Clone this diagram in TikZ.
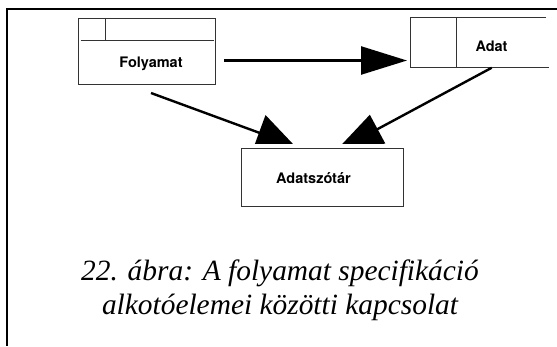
\documentclass[tikz,border=0pt]{standalone}
\usepackage{fontspec}
\setmainfont{Liberation Serif}
\newfontfamily\labelfont{TeX Gyre Heros}
\usetikzlibrary{arrows.meta}

\tikzset{
  box/.style={draw=black!80, line width=0.9pt, rectangle, inner sep=0pt},
  boxline/.style={draw=black!80, line width=0.9pt},
  lbl/.style={font=\labelfont\bfseries\fontsize{14.5}{17}\selectfont, anchor=base, inner sep=0pt},
  capt/.style={font=\itshape\fontsize{29.4}{34}\selectfont, anchor=base, inner sep=0pt},
  conn/.style={draw=black, line width=2.4pt},
  frame/.style={draw=black, line width=2.6pt}
}

\begin{document}
\begin{tikzpicture}[x=1pt, y=-1pt]
  \useasboundingbox (0,0) rectangle (557,346);

  % page frame: top and left rules only
  \draw[frame] (557,9) -- (7,9) -- (7,346);

  % process box with header strip
  \node[box, minimum width=137.3pt, minimum height=66pt] (proc) at (146.65,51) {};
  \draw[boxline] (80.7,40.7) -- (213.7,40.7);
  \draw[boxline] (105.3,18) -- (105.3,40.7);
  \node[lbl] (proclbl) at (151,67.2) {Folyamat};

  % data store, open on the right side
  \node[minimum width=137pt, minimum height=50pt, inner sep=0pt] (store) at (478.5,42.75) {};
  \draw[boxline] (546,17.75) -- (410,17.75) -- (410,67.75) -- (549,67.75);
  \draw[boxline] (456,17.75) -- (456,67.75);
  \node[lbl] (storelbl) at (491.5,51.5) {Adat};

  % data dictionary
  \node[box, minimum width=162pt, minimum height=58pt] (dict) at (322,177) {};
  \node[lbl] (dictlbl) at (313.5,183.5) {Adatszótár};

  % connector end points
  \coordinate (a1s) at (224,60.5);
  \coordinate (a1e) at (407,60.5);
  \coordinate (a2s) at (151,93);
  \coordinate (a2e) at (294.7,145.8);
  \coordinate (a3s) at (491.7,67.75);
  \coordinate (a3e) at (334.4,152.3);

  % process -> data store
  \draw[conn, -{Triangle[length=46pt, width=28pt]}] (a1s) -- (a1e);

  % flows into the dictionary, heads trimmed above its top edge
  \begin{scope}
    \clip (0,0) rectangle (557,143.5);
    \draw[conn, -{Triangle[length=38pt, width=37pt]}] (a2s) -- (a2e);
    \draw[conn, -{Triangle[length=49pt, width=32pt]}] (a3s) -- (a3e);
  \end{scope}

  % caption
  \node[capt] (cap1) at (280,280) {22. ábra: A folyamat specifikáció};
  \node[capt] (cap2) at (280,314) {alkotóelemei közötti kapcsolat};
\end{tikzpicture}
\end{document}
